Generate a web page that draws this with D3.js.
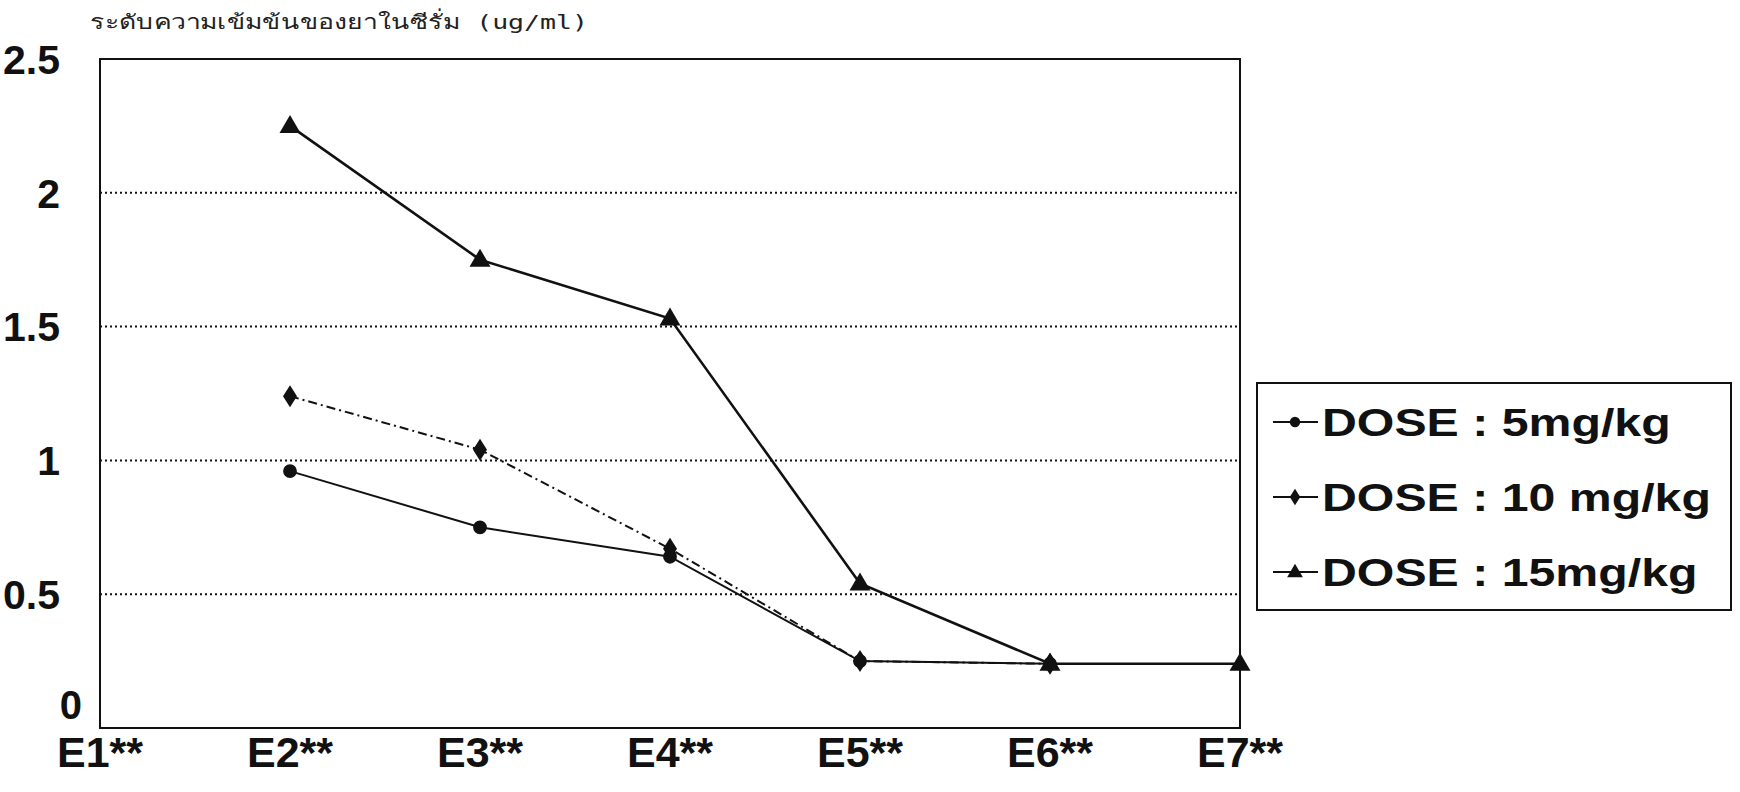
<!DOCTYPE html>
<html><head><meta charset="utf-8">
<script src="https://cdn.jsdelivr.net/npm/d3@7"></script>
<style>html,body{margin:0;padding:0;background:#fff;overflow:hidden}</style>
</head><body>
<svg id="chart" width="1740" height="792"></svg>
<script>
const categories = ["E1**","E2**","E3**","E4**","E5**","E6**","E7**"];
const dose5  = [null, 0.96, 0.75, 0.64, 0.25, 0.24, null];
const dose10 = [null, 1.24, 1.04, 0.67, 0.25, 0.24, null];
const dose15 = [null, 2.25, 1.75, 1.53, 0.54, 0.24, 0.24];
const seriesNames = ["DOSE : 5mg/kg","DOSE : 10 mg/kg","DOSE : 15mg/kg"];
const yTicks = [0, 0.5, 1, 1.5, 2, 2.5];
const yTickLabels = ["0","0.5","1","1.5","2","2.5"];
const yTitle = "ระดับความเข้มข้นของยาในซีรั่ม (ug/ml)";

const svg = d3.select("#chart");
const L = 100, R = 1240, T = 59, B = 728;
const x = d3.scalePoint().domain(categories).range([L, R]);
const y = d3.scaleLinear().domain([0, 2.5]).range([B, T]);

// gridlines
svg.append("g").selectAll("line").data(yTicks.filter(v => v > 0 && v < 2.5)).join("line")
  .attr("x1", L).attr("x2", R).attr("y1", d => y(d)).attr("y2", d => y(d))
  .attr("stroke", "#111").attr("stroke-width", 2).attr("stroke-dasharray", "2,3");

// frame
svg.append("rect").attr("x", L).attr("y", T).attr("width", R - L).attr("height", B - T)
  .attr("fill", "none").attr("stroke", "#111").attr("stroke-width", 2);

// y tick labels
const font = "'Liberation Sans', Arial, sans-serif";
svg.append("g").selectAll("text").data(yTicks).join("text")
  .attr("x", d => d === 0 ? 82 : 60)
  .attr("y", d => d === 0 ? 719 : y(d))
  .attr("dy", d => d === 0 ? 0 : "0.36em")
  .attr("text-anchor", "end")
  .attr("font-family", font).attr("font-weight", "bold").attr("font-size", d => d === 0 ? 40 : 41)
  .attr("fill", "#111")
  .text((d, i) => yTickLabels[i]);

// x labels
svg.append("g").selectAll("text").data(categories).join("text")
  .attr("x", d => x(d)).attr("y", 767)
  .attr("text-anchor", "middle")
  .attr("font-family", font).attr("font-weight", "bold").attr("font-size", 43)
  .attr("fill", "#111")
  .text(d => d);

// y title
svg.append("text").attr("x", 90).attr("y", 29)
  .attr("font-family", "'DejaVu Sans Mono', 'Noto Sans', monospace").attr("font-size", 20)
  .attr("textLength", 498).attr("lengthAdjust", "spacingAndGlyphs")
  .attr("fill", "#222").text(yTitle);

// series
const series = [
  {name: seriesNames[0], values: dose5, dash: null, width: 2, marker: "circle"},
  {name: seriesNames[1], values: dose10, dash: "9,4,2,4", width: 2, marker: "diamond"},
  {name: seriesNames[2], values: dose15, dash: null, width: 2.6, marker: "triangle"}
];
function markerPath(type) {
  if (type === "circle") return d3.symbol().type(d3.symbolCircle).size(150)();
  if (type === "diamond") return "M0,-11L7,0L0,11L-7,0Z";
  return "M0,-11L10.5,7L-10.5,7Z";
}
const line = d3.line().defined(d => d.v != null).x(d => x(d.c)).y(d => y(d.v));
series.forEach(s => {
  const pts = categories.map((c, i) => ({c, v: s.values[i]}));
  svg.append("path").datum(pts).attr("d", line).attr("fill", "none")
    .attr("stroke", "#111").attr("stroke-width", s.width)
    .attr("stroke-dasharray", s.dash);
});
series.forEach(s => {
  const pts = categories.map((c, i) => ({c, v: s.values[i]})).filter(d => d.v != null);
  svg.append("g").selectAll("path").data(pts).join("path")
    .attr("transform", d => `translate(${x(d.c)},${y(d.v)})`)
    .attr("d", markerPath(s.marker)).attr("fill", "#111");
});

// legend
const lg = svg.append("g");
lg.append("rect").attr("x", 1257).attr("y", 383).attr("width", 474).attr("height", 227)
  .attr("fill", "#fff").attr("stroke", "#111").attr("stroke-width", 2);
series.forEach((s, i) => {
  const cy = 422 + i * 75;
  lg.append("line").attr("x1", 1273).attr("x2", 1318).attr("y1", cy).attr("y2", cy)
    .attr("stroke", "#111").attr("stroke-width", 2);
  lg.append("path")
    .attr("d", markerPath(s.marker)).attr("fill", "#111")
    .attr("transform", `translate(1295,${cy}) scale(0.75)`);
  const t = lg.append("text").attr("x", 1322).attr("y", cy).attr("dy", "0.36em")
    .attr("font-family", font).attr("font-weight", "bold").attr("font-size", 38)
    .attr("fill", "#111").text(s.name);
  const w = t.node().getComputedTextLength();
  t.attr("textLength", w * 1.27).attr("lengthAdjust", "spacingAndGlyphs");
});
</script>
</body></html>
